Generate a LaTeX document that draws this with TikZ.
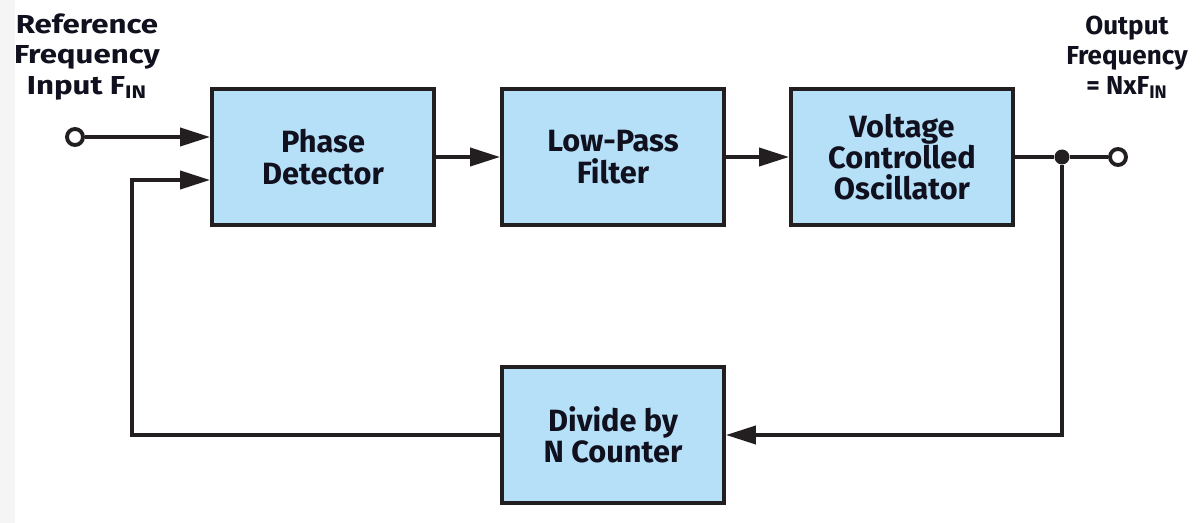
\documentclass[tikz,border=0pt]{standalone}
\usepackage{fontspec}
\setmainfont{Fira Sans}
\usetikzlibrary{positioning,arrows.meta}

\definecolor{boxblue}{HTML}{B5E0F7}
\definecolor{linecol}{HTML}{231F20}
\definecolor{ink}{HTML}{10101E}
\definecolor{stripgrey}{HTML}{F5F5F5}

\begin{document}
\begin{tikzpicture}[x=0.02cm, y=-0.02cm,
    block/.style={draw=linecol, line width=2.2pt, fill=boxblue, minimum width=4.44cm,
                  minimum height=2.72cm, inner sep=0pt, align=center, text=ink,
                  font=\bfseries\fontsize{17.5}{17.8}\selectfont},
    term/.style ={circle, draw=linecol, line width=2.2pt, fill=white, minimum size=0.32cm,
                  inner sep=0pt},
    tapdot/.style={circle, fill=linecol, minimum size=0.3cm, inner sep=0pt},
    link/.style ={draw=linecol, line width=2.2pt},
    flow/.style ={link, -{Triangle[length=0.6cm, width=0.36cm]}},
    lbl/.style  ={align=center, text=ink, font=\bfseries\fontsize{14.8}{17.2}\selectfont}
  ]
    \useasboundingbox (0,0) rectangle (1200,523);
    \fill[stripgrey] (0,0) rectangle (15,523);

    % --- forward path ---
    \node[block] (pd)  at (323,157) {Phase\\Detector};
    \node[block] (lpf) at (613,157) {Low-Pass\\Filter};
    \node[block] (vco) at (902,157) {Voltage\\Controlled\\Oscillator};

    % --- feedback divider ---
    \node[block] (div) at (613,435) {Divide by\\N Counter};

    % terminals and tap point
    \node[term] (fin)  at (75,137) {};
    \node[term] (fout) at (1118,157) {};
    \node[tapdot] (tap) at (1062,157) {};
    \coordinate (fbturn) at (132,180);

    % labels (input one is set wider)
    \node[lbl, xscale=1.2, transform shape] (reflbl) at (87,57) {Reference\\Frequency\\Input F\textsubscript{IN}};
    \node[lbl] (outlbl) at (1127,57) {Output\\Frequency\\= NxF\textsubscript{IN}};

    % connectors
    \draw[flow] (fin) -- (fin -| pd.west);
    \draw[flow] (pd) -- (lpf);
    \draw[flow] (lpf) -- (vco);
    \draw[link] (vco) -- (tap) -- (fout);
    \draw[flow] (tap) |- (div);
    \draw[flow] (div.west) -| (fbturn) -- (fbturn -| pd.west);
  \end{tikzpicture}
\end{document}
